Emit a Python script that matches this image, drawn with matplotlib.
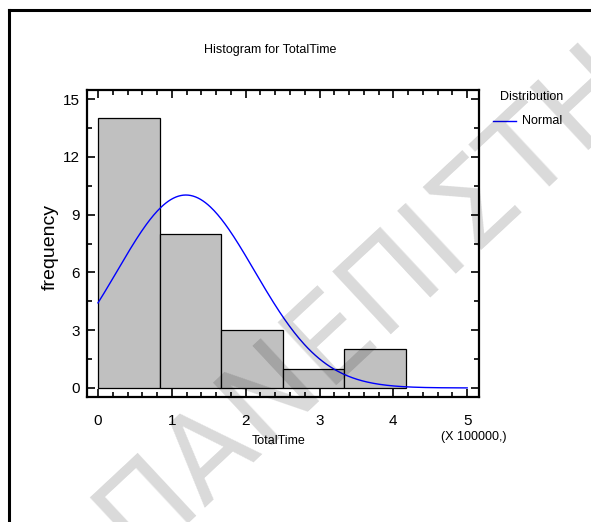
import numpy as np
import matplotlib
matplotlib.use("Agg")
import matplotlib.pyplot as plt
from matplotlib.lines import Line2D

# histogram of TotalTime (x in units of 100000)
bin_edges = [0.0, 0.834, 1.668, 2.502, 3.336, 4.170]
counts = [14, 8, 3, 1, 2]

# fitted normal distribution (same units)
fit_mean = 1.19
fit_sd = 0.93

x_ticks = [0, 1, 2, 3, 4, 5]
y_ticks = [0, 3, 6, 9, 12, 15]

FONT = "Liberation Sans"

W, H = 591, 522
fig = plt.figure(figsize=(W / 100, H / 100), dpi=100)
fig.patch.set_facecolor("white")

def fx(px):
    return px / W

def fy(py):
    return 1 - py / H

ax = fig.add_axes([fx(87), fy(397), fx(479) - fx(87), fy(90) - fy(397)])

widths = np.diff(bin_edges)
ax.bar(bin_edges[:-1], counts, width=widths, align="edge",
       color="#c0c0c0", edgecolor="black", linewidth=0.9, zorder=2)

n_obs = sum(counts)
xs = np.linspace(0, 5, 300)
ys = n_obs * widths.mean() * np.exp(-0.5 * ((xs - fit_mean) / fit_sd) ** 2) / (fit_sd * np.sqrt(2 * np.pi))
ax.plot(xs, ys, color="#0000ff", linewidth=1.0, zorder=3)

ax.set_xlim(-0.149, 5.16)
ax.set_ylim(-0.47, 15.47)

ax.set_xticks(x_ticks)
ax.set_xticks(np.arange(0, 5.01, 0.2), minor=True)
ax.set_yticks(y_ticks)
ax.set_yticks(np.arange(0, 15.01, 1.5), minor=True)
ax.set_xticklabels([str(t) for t in x_ticks], fontfamily=FONT, fontsize=11)
ax.set_yticklabels([str(t) for t in y_ticks], fontfamily=FONT, fontsize=11)

ax.tick_params(which="both", direction="in", top=True, right=True, color="black", width=1.2)
ax.tick_params(which="major", length=6)
ax.tick_params(which="minor", length=3.5)
ax.tick_params(axis="x", which="major", pad=12)
ax.tick_params(axis="y", which="major", pad=5)
ax.tick_params(labelright=False, labeltop=False)

for sp in ax.spines.values():
    sp.set_linewidth(1.6)
    sp.set_color("black")

# texts
fig.text(fx(270.5), fy(50), "Histogram for TotalTime", ha="center", va="center",
         fontfamily=FONT, fontsize=9)
fig.text(fx(279), fy(441), "TotalTime", ha="center", va="center",
         fontfamily=FONT, fontsize=9)
fig.text(fx(474), fy(437), "(X 100000,)", ha="center", va="center",
         fontfamily=FONT, fontsize=9)
fig.text(fx(50), fy(247), "frequency", ha="center", va="center", rotation=90,
         fontfamily=FONT, fontsize=14)

# legend
fig.text(fx(531.5), fy(97), "Distribution", ha="center", va="center",
         fontfamily=FONT, fontsize=9)
fig.add_artist(Line2D([fx(493), fx(516)], [fy(121), fy(121)], color="#0000ff",
                      linewidth=1.0, transform=fig.transFigure))
fig.text(fx(522), fy(121), "Normal", ha="left", va="center",
         fontfamily=FONT, fontsize=9)

# outer frame (open at right and bottom)
fig.add_artist(Line2D([fx(9), fx(9)], [0, fy(10)], color="black", linewidth=2.2,
                      transform=fig.transFigure))
fig.add_artist(Line2D([fx(9), 1], [fy(10), fy(10)], color="black", linewidth=2.2,
                      transform=fig.transFigure))

# watermark
fig.text(fx(137), fy(561), "ΠΑΝΕΠΙΣΤΗΜΙΟ", rotation=43, rotation_mode="anchor",
         ha="left", va="baseline", fontfamily="DejaVu Sans", fontsize=85,
         color="black", alpha=0.15, zorder=10)

fig.savefig("out.png", dpi=100)
